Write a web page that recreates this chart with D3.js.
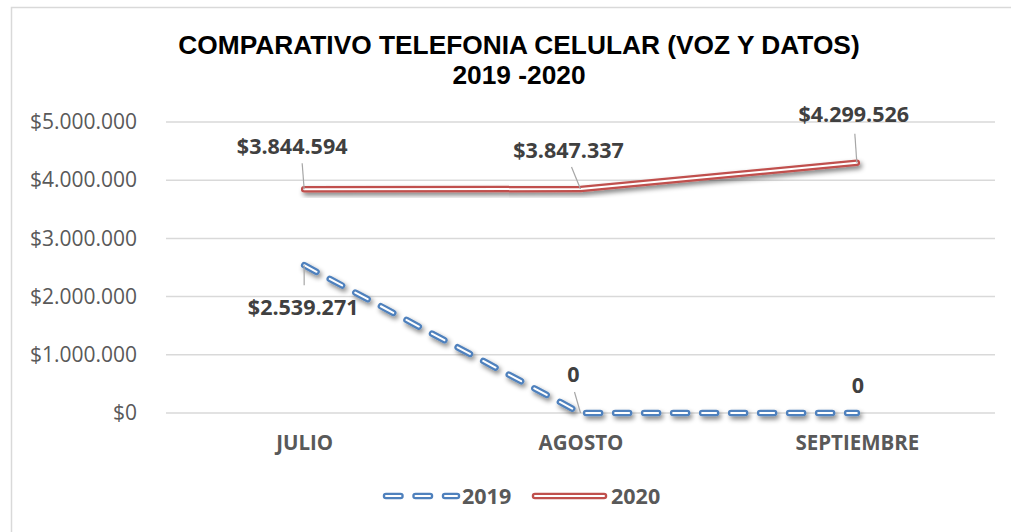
<!DOCTYPE html>
<html>
<head>
<meta charset="utf-8">
<script src="https://cdn.jsdelivr.net/npm/d3@7"></script>
<style>
  body { margin: 0; background: #fff; }
  svg { display: block; }
</style>
</head>
<body>
<div id="chart"></div>
<script>
var months = ["JULIO", "AGOSTO", "SEPTIEMBRE"];
var values2019 = [2539271, 0, 0];
var values2020 = [3844594, 3847337, 4299526];
var yTicks = [0, 1000000, 2000000, 3000000, 4000000, 5000000];
var seriesNames = ["2019", "2020"];

var width = 1011, height = 532;
var margin = {top: 122, right: 16, bottom: 119, left: 166};

var svg = d3.select("#chart")
    .append("svg")
    .attr("width", width)
    .attr("height", height);

var defs = svg.append("defs");
var shadow = defs.append("filter")
    .attr("id", "shadow")
    .attr("x", "-10%").attr("y", "-30%")
    .attr("width", "120%").attr("height", "160%");
shadow.append("feGaussianBlur").attr("in", "SourceAlpha").attr("stdDeviation", 2.5);
shadow.append("feOffset").attr("dx", 2).attr("dy", 3).attr("result", "blur");
shadow.append("feComponentTransfer")
    .append("feFuncA").attr("type", "linear").attr("slope", 0.5);
var merge = shadow.append("feMerge");
merge.append("feMergeNode");
merge.append("feMergeNode").attr("in", "SourceGraphic");

// chart frame
svg.append("rect")
    .attr("x", 11.5).attr("y", 7.5)
    .attr("width", 1100).attr("height", 600)
    .attr("fill", "none")
    .attr("stroke", "#d9d9d9")
    .attr("stroke-width", 1.5);

var x = d3.scalePoint()
    .domain(months)
    .range([margin.left, width - margin.right])
    .padding(0.5);

var y = d3.scaleLinear()
    .domain([0, 5000000])
    .range([height - margin.bottom, margin.top]);

var money = function(v) {
    return "$" + d3.format(",")(v).replace(/,/g, ".");
};

// gridlines
svg.selectAll("line.grid")
    .data(yTicks)
    .enter()
    .append("line")
    .attr("class", "grid")
    .attr("x1", margin.left)
    .attr("x2", width - margin.right)
    .attr("y1", function(d){return y(d)})
    .attr("y2", function(d){return y(d)})
    .attr("stroke", "#d9d9d9")
    .attr("stroke-width", 1.5);

var yAxis = svg.append("g")
    .attr("transform", "translate(" + (margin.left - 29) + ",0)")
    .call(d3.axisLeft(y).tickValues(yTicks).tickFormat(money).tickSize(0).tickPadding(0));
yAxis.select(".domain").remove();
yAxis.selectAll("text")
    .attr("fill", "#595959")
    .attr("font-family", "'Open Sans', sans-serif")
    .attr("font-size", 21);

var xAxis = svg.append("g")
    .attr("transform", "translate(0," + y(0) + ")")
    .call(d3.axisBottom(x).tickSize(0).tickPadding(22));
xAxis.select(".domain").remove();
xAxis.selectAll("text")
    .attr("fill", "#595959")
    .attr("font-family", "'Open Sans', sans-serif")
    .attr("font-weight", "bold")
    .attr("font-size", 20.5);

// title
var title = svg.append("text")
    .attr("text-anchor", "middle")
    .attr("font-family", "'Liberation Sans', Arial, sans-serif")
    .attr("font-weight", "bold")
    .attr("font-size", 26.3)
    .attr("fill", "#000");
title.append("tspan").attr("x", 519).attr("y", 54).text("COMPARATIVO TELEFONIA CELULAR (VOZ Y DATOS)");
title.append("tspan").attr("x", 519).attr("y", 84).text("2019 -2020");

var line = d3.line()
    .x(function(d, i){return x(months[i])})
    .y(function(d){return y(d)});

function compoundLine(g, data, color, dash) {
    var grp = g.append("g").attr("filter", "url(#shadow)");
    grp.append("path")
        .attr("d", line(data))
        .attr("fill", "none")
        .attr("stroke", color)
        .attr("stroke-width", 6.5)
        .attr("stroke-linecap", "round")
        .attr("stroke-linejoin", "round")
        .attr("stroke-dasharray", dash);
    grp.append("path")
        .attr("d", line(data))
        .attr("fill", "none")
        .attr("stroke", "#fff")
        .attr("stroke-width", 2)
        .attr("stroke-linecap", "round")
        .attr("stroke-linejoin", "round")
        .attr("stroke-dasharray", dash);
}

var plot = svg.append("g");
compoundLine(plot, values2020, "#c0504d", null);
compoundLine(plot, values2019, "#4f81bd", "14,15");

// data labels: offsets from point, leader offsets
var labels = [
    {v: values2020[0], i: 0, dx: -12, dy: -35, lead: [-2, -26]},
    {v: values2020[1], i: 1, dx: -12, dy: -31, lead: [-9, -22]},
    {v: values2020[2], i: 2, dx: -3, dy: -41, lead: [-2, -29]},
    {v: values2019[0], i: 0, dx: -1, dy: 50, lead: [0, 20]},
    {v: values2019[1], i: 1, dx: -7, dy: -31, lead: [-6, -21]},
    {v: values2019[2], i: 2, dx: 1, dy: -20, lead: null}
];

svg.selectAll("line.leader")
    .data(labels.filter(function(d){return d.lead}))
    .enter()
    .append("line")
    .attr("class", "leader")
    .attr("x1", function(d){return x(months[d.i])})
    .attr("y1", function(d){return y(d.v)})
    .attr("x2", function(d){return x(months[d.i]) + d.lead[0]})
    .attr("y2", function(d){return y(d.v) + d.lead[1]})
    .attr("stroke", "#a6a6a6")
    .attr("stroke-width", 1.2);

svg.selectAll("text.dlabel")
    .data(labels)
    .enter()
    .append("text")
    .attr("class", "dlabel")
    .attr("text-anchor", "middle")
    .attr("x", function(d){return x(months[d.i]) + d.dx})
    .attr("y", function(d){return y(d.v) + d.dy})
    .attr("font-family", "'Open Sans', sans-serif")
    .attr("font-weight", "bold")
    .attr("font-size", 21.5)
    .attr("fill", "#404040")
    .text(function(d){return d.v === 0 ? "0" : money(d.v)});

// legend
var legend = svg.append("g").attr("transform", "translate(0,496)");
var legendItems = [
    {name: seriesNames[0], color: "#4f81bd", dash: "14.5,15", x: 386, len: 71},
    {name: seriesNames[1], color: "#c0504d", dash: null, x: 535, len: 69}
];
legendItems.forEach(function(d) {
    legend.append("path")
        .attr("d", "M" + d.x + ",0H" + (d.x + d.len))
        .attr("stroke", d.color).attr("stroke-width", 6.5)
        .attr("stroke-linecap", "round").attr("stroke-dasharray", d.dash)
        .attr("fill", "none");
    legend.append("path")
        .attr("d", "M" + d.x + ",0H" + (d.x + d.len))
        .attr("stroke", "#fff").attr("stroke-width", 2)
        .attr("stroke-linecap", "round").attr("stroke-dasharray", d.dash)
        .attr("fill", "none");
    legend.append("text")
        .attr("x", d.x + 76)
        .attr("y", 8)
        .attr("font-family", "'Open Sans', sans-serif")
        .attr("font-weight", "bold")
        .attr("font-size", 21.5)
        .attr("fill", "#595959")
        .text(d.name);
});
</script>
</body>
</html>
